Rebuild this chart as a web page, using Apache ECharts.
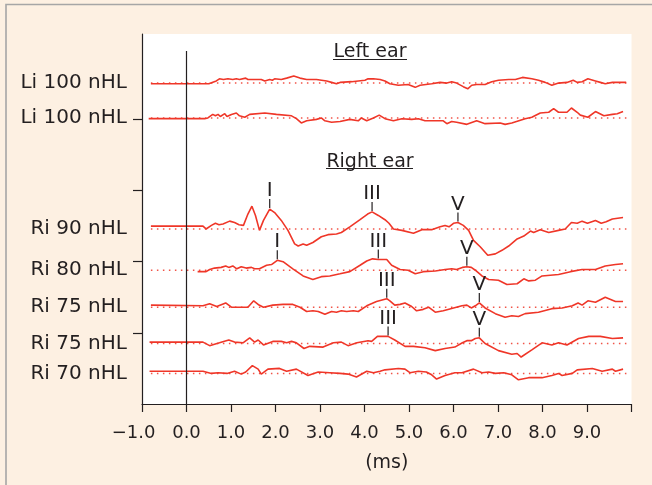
<!DOCTYPE html>
<html>
<head>
<meta charset="utf-8">
<script src="https://cdn.jsdelivr.net/npm/echarts@6/dist/echarts.min.js"></script>
<style>
html,body{margin:0;padding:0;background:#FDF0E2;}
#chart{width:652px;height:485px;}
</style>
</head>
<body>
<div id="chart"></div>
<script>
// ---- data ----
const traceNames = ['Li 100 nHL','Li 100 nHL','Ri 90 nHL','Ri 80 nHL','Ri 75 nHL','Ri 75 nHL','Ri 70 nHL'];
const baselines = [45.1, 40.2, 24.6, 18.8, 13.6, 8.5, 4.3];
const baselineSpan = [-0.8, 9.9];
const xTickLabels = ['\u22121.0','0.0','1.0','2.0','3.0','4.0','5.0','6.0','7.0','8.0','9.0'];
const xTickValues = [-1,0,1,2,3,4,5,6,7,8,9];
const yTickValues = [10,20,30,40];
const zeroLineTop = 49.6;

const liA = [[-0.8,-0.1],[0.41,-0.1],[0.44,0.0],[0.5,-0.1],[0.53,0.1],[0.67,0.3],[0.74,0.6],[0.83,0.5],[0.93,0.6],[1.04,0.5],[1.12,0.6],[1.19,0.5],[1.33,0.7],[1.38,0.5],[1.53,0.5],[1.68,0.5],[1.76,0.3],[1.87,0.5],[1.93,0.4],[1.98,0.6],[2.13,0.5],[2.25,0.7],[2.41,1.0],[2.55,0.7],[2.70,0.5],[2.92,0.5],[3.15,0.3],[3.26,0.1],[3.37,-0.1],[3.45,0.1],[3.71,0.2],[4.01,0.4],[4.08,0.6],[4.20,0.6],[4.35,0.5],[4.46,0.3],[4.57,-0.1],[4.76,-0.3],[4.98,-0.2],[5.14,-0.6],[5.25,-0.3],[5.51,-0.1],[5.70,0.1],[5.85,0.0],[5.96,0.2],[6.07,0.0],[6.22,-0.5],[6.32,-0.8],[6.41,-0.3],[6.52,-0.2],[6.71,-0.2],[6.86,0.2],[7.01,0.4],[7.24,0.5],[7.39,0.5],[7.55,0.8],[7.76,0.6],[7.91,0.4],[8.06,0.1],[8.21,-0.3],[8.36,0.0],[8.55,0.1],[8.69,0.4],[8.78,0.1],[8.89,0.2],[9.02,0.6],[9.19,0.3],[9.30,0.1],[9.41,-0.1],[9.57,0.1],[9.71,0.1],[9.88,0.1]];
const liB = [[-0.85,-0.1],[0.41,-0.1],[0.48,0],[0.59,0.5],[0.65,0.3],[0.71,0.5],[0.76,0.2],[0.86,0.6],[0.91,0.2],[1.01,0.5],[1.12,0.7],[1.19,0.3],[1.31,0.1],[1.42,0.5],[1.76,0.7],[2.02,0.5],[2.36,0.3],[2.47,-0.1],[2.58,-0.7],[2.70,-0.4],[2.92,-0.2],[3.03,0],[3.11,-0.4],[3.26,-0.6],[3.45,-0.5],[3.67,-0.2],[3.86,-0.4],[3.93,0],[4.05,-0.4],[4.20,0],[4.33,0.4],[4.46,-0.1],[4.65,-0.4],[4.84,-0.1],[5.06,-0.2],[5.21,-0.1],[5.36,-0.4],[5.77,-0.4],[5.85,-0.8],[5.96,-0.5],[6.07,-0.6],[6.30,-0.9],[6.52,-0.4],[6.71,-0.8],[7.05,-0.7],[7.16,-0.9],[7.31,-0.7],[7.61,-0.1],[7.76,0.1],[7.95,0.7],[8.14,0.8],[8.25,1.3],[8.36,0.8],[8.55,0.8],[8.65,1.4],[8.78,0.8],[8.85,0.4],[9.02,0.1],[9.19,0.9],[9.38,0.3],[9.57,0.5],[9.68,0.6],[9.81,0.9]];
const ri90 = [[-0.8,0.4],[0.37,0.4],[0.44,0.0],[0.56,0.5],[0.65,0.8],[0.73,0.6],[0.82,0.7],[0.97,1.1],[1.08,0.9],[1.18,0.6],[1.28,0.5],[1.38,2.1],[1.47,3.2],[1.55,1.9],[1.64,-0.2],[1.73,1.2],[1.87,2.8],[1.98,2.3],[2.13,1.2],[2.28,-0.2],[2.43,-2.1],[2.51,-2.4],[2.62,-2.1],[2.70,-2.3],[2.84,-1.9],[3.03,-1.1],[3.18,-0.8],[3.37,-0.7],[3.48,-0.5],[3.67,0.3],[3.90,1.3],[4.07,2.1],[4.17,2.4],[4.31,1.9],[4.46,1.3],[4.55,0.8],[4.65,0.0],[4.84,-0.2],[5.10,-0.6],[5.29,-0.1],[5.51,-0.1],[5.70,0.3],[5.81,0.5],[5.90,0.3],[6.00,0.8],[6.10,0.9],[6.22,0.5],[6.34,-0.2],[6.45,-1.6],[6.60,-2.5],[6.77,-3.7],[6.94,-3.5],[7.09,-3.0],[7.24,-2.4],[7.43,-1.4],[7.58,-1.0],[7.73,-0.3],[7.80,-0.5],[7.95,-0.1],[8.14,-0.5],[8.36,-0.2],[8.51,0.0],[8.65,0.9],[8.78,0.8],[8.89,1.1],[9.01,0.8],[9.19,1.2],[9.32,0.8],[9.43,1.0],[9.57,1.4],[9.81,1.6]];
const ri80 = [[0.25,-0.2],[0.44,-0.2],[0.52,0.1],[0.63,0.3],[0.78,0.4],[0.88,0.6],[0.95,0.4],[1.04,0.6],[1.13,0.2],[1.23,0.5],[1.34,0.3],[1.46,0.4],[1.53,0.2],[1.64,0.2],[1.80,0.7],[1.91,0.8],[2.04,1.4],[2.17,1.2],[2.39,0.2],[2.62,-0.8],[2.84,-1.3],[3.03,-0.9],[3.22,-0.8],[3.45,-0.5],[3.67,-0.2],[3.90,0.7],[4.05,1.3],[4.18,1.6],[4.31,1.5],[4.50,1.5],[4.61,0.7],[4.80,0.1],[4.98,0.0],[5.14,-0.5],[5.32,-0.2],[5.59,-0.1],[5.81,0.1],[5.96,0.2],[6.07,0.1],[6.20,0.4],[6.30,0.5],[6.40,0.4],[6.49,0.0],[6.64,-0.8],[6.79,-1.3],[7.01,-1.4],[7.20,-2.0],[7.43,-1.9],[7.58,-1.2],[7.69,-1.5],[7.84,-1.4],[7.99,-0.8],[8.36,-0.6],[8.63,-0.2],[8.89,0.1],[9.19,0.1],[9.41,0.6],[9.64,0.8],[9.81,0.9]];
const ri75a = [[-0.8,0.3],[0.37,0.2],[0.52,0.5],[0.68,0.1],[0.88,0.6],[1.01,0.0],[1.19,0.0],[1.38,0.0],[1.51,0.9],[1.63,0.3],[1.73,0.0],[1.94,0.3],[2.17,0.4],[2.39,0.4],[2.55,0.0],[2.70,-0.6],[2.84,-0.5],[2.96,-0.6],[3.11,-1.0],[3.26,-0.6],[3.37,-0.7],[3.48,-0.5],[3.60,-0.6],[3.75,-0.5],[3.86,-0.6],[4.05,0.2],[4.27,0.8],[4.50,1.2],[4.57,0.9],[4.68,0.3],[4.80,0.4],[4.91,0.6],[5.06,0.1],[5.17,-0.5],[5.32,-0.3],[5.44,0.0],[5.59,-0.7],[5.77,-0.5],[6.19,0.2],[6.30,0.3],[6.40,-0.1],[6.49,0.2],[6.58,0.6],[6.71,-0.1],[6.94,-0.9],[7.16,-1.4],[7.31,-1.2],[7.46,-1.3],[7.61,-0.9],[7.91,-0.7],[8.21,-0.2],[8.44,-0.1],[8.67,0.2],[8.80,0.6],[8.89,0.3],[9.02,0.9],[9.19,0.7],[9.41,1.4],[9.64,0.8],[9.81,0.8]];
const ri75b = [[-0.83,0.2],[0.37,0.2],[0.52,-0.3],[0.74,0.1],[0.95,0.5],[1.08,0.2],[1.27,0.1],[1.42,0.8],[1.53,0.2],[1.61,0.5],[1.73,-0.2],[1.94,0.3],[2.13,0.3],[2.25,0.1],[2.36,0.3],[2.47,0.1],[2.64,-0.7],[2.77,-0.4],[3.07,-0.5],[3.30,0.1],[3.48,0.2],[3.63,-0.3],[3.83,0.1],[4.08,0.4],[4.16,0.3],[4.29,1.0],[4.53,1.0],[4.68,0.5],[4.91,-0.4],[5.10,-0.4],[5.36,-0.6],[5.59,-1.0],[5.81,-0.7],[6.03,-0.5],[6.20,0.1],[6.30,0.4],[6.40,0.4],[6.49,0.7],[6.58,0.8],[6.71,0.0],[7.01,-1.0],[7.31,-1.5],[7.43,-1.4],[7.52,-1.9],[7.76,-0.9],[7.99,0.1],[8.21,-0.2],[8.36,0.1],[8.55,-0.2],[8.81,0.7],[9.04,1.0],[9.30,1.0],[9.57,0.7],[9.81,0.8]];
const ri70 = [[-0.83,0.3],[0.37,0.3],[0.56,0.0],[0.71,0.1],[0.91,0.0],[1.08,0.3],[1.23,-0.1],[1.33,0.2],[1.48,1.1],[1.61,0.6],[1.68,-0.1],[1.83,0.6],[2.09,0.7],[2.25,0.3],[2.47,0.6],[2.73,-0.3],[2.96,0.2],[3.22,0.1],[3.45,0.0],[3.63,-0.1],[3.82,-0.5],[4.05,0.3],[4.20,0.1],[4.35,0.3],[4.46,0.5],[4.76,0.7],[4.91,0.6],[5.02,0.1],[5.21,0.3],[5.39,0.2],[5.51,-0.2],[5.62,-0.8],[5.81,-0.3],[6.03,0.1],[6.19,0.1],[6.45,0.6],[6.64,0.1],[6.79,0.2],[6.94,0.0],[7.13,0.1],[7.31,-0.2],[7.46,-0.9],[7.69,-0.6],[7.99,-0.6],[8.21,-0.3],[8.36,0.0],[8.44,-0.3],[8.67,0.0],[8.78,0.5],[9.12,0.7],[9.34,0.3],[9.57,0.6],[9.64,0.3],[9.81,0.6]];
const traces = [liA, liB, ri90, ri80, ri75a, ri75b, ri70];

const peakTrace = [2,2,2,3,3,3,4,4,5,5];
const peakNames = ['I','III','V','I','III','V','III','V','III','V'];
const peakTimes = [1.87,4.17,6.10,2.04,4.31,6.30,4.50,6.58,4.53,6.58];

// ---- styling ----
const RED = '#EF3628';
const INK = '#231F20';
const FONT = '"DejaVu Sans", sans-serif';

function valueAt(tr, t){
  for (let i = 0; i < tr.length - 1; i++){
    const a = tr[i], b = tr[i+1];
    if (t >= a[0] && t <= b[0]) {
      const f = (t - a[0]) / (b[0] - a[0] || 1);
      return a[1] + f * (b[1] - a[1]);
    }
  }
  return tr[tr.length-1][1];
}

const series = [];
traces.forEach((tr, i) => {
  series.push({
    type: 'line', name: 'base' + i, silent: true, symbol: 'none', animation: false, z: 2,
    data: [[baselineSpan[0], baselines[i]], [baselineSpan[1], baselines[i]]],
    lineStyle: { color: RED, width: 1.5, type: [1.5, 4.5], opacity: 0.85 }
  });
  series.push({
    type: 'line', name: traceNames[i], silent: true, symbol: 'none', animation: false, z: 3,
    data: tr.map(p => [p[0], baselines[i] + p[1]]),
    lineStyle: { color: RED, width: 1.6 }
  });
});

// zero reference line
series.push({
  type: 'line', silent: true, symbol: 'none', animation: false, z: 4,
  data: [[0, 0], [0, zeroLineTop]],
  lineStyle: { color: INK, width: 1.2 }
});

// trace labels
series.push({
  type: 'custom', silent: true, animation: false, clip: false, z: 5,
  data: baselines.map((b, i) => [baselineSpan[0], b, i]),
  encode: { x: 0, y: 1 },
  renderItem: function (params, api) {
    const p = api.coord([api.value(0), api.value(1)]);
    return {
      type: 'text', x: p[0] - 24, y: p[1],
      style: { text: traceNames[api.value(2)], align: 'right', verticalAlign: 'middle',
               fontSize: 20, fontFamily: FONT, fill: INK }
    };
  }
});

// peak markers
series.push({
  type: 'custom', silent: true, animation: false, clip: false, z: 6,
  data: peakTimes.map((t, k) => [t, baselines[peakTrace[k]] + valueAt(traces[peakTrace[k]], t), k]),
  encode: { x: 0, y: 1 },
  renderItem: function (params, api) {
    const p = api.coord([api.value(0), api.value(1)]);
    return {
      type: 'group',
      children: [
        { type: 'line', shape: { x1: p[0], y1: p[1] - 1, x2: p[0], y2: p[1] - 10 },
          style: { stroke: INK, lineWidth: 1.2 } },
        { type: 'text', x: p[0], y: p[1] - 8,
          style: { text: peakNames[api.value(2)], align: 'center', verticalAlign: 'bottom',
                   fontSize: 20, fontFamily: FONT, fill: INK } }
      ]
    };
  }
});

const chart = echarts.init(document.getElementById('chart'), null, { renderer: 'canvas' });
chart.setOption({
  animation: false,
  backgroundColor: '#FDF0E2',
  grid: { left: 142, right: 20.5, top: 34, bottom: 81, show: true, backgroundColor: '#FFFFFF', borderWidth: 0 },
  xAxis: {
    type: 'value', min: -1, max: 10, interval: 1,
    name: '(ms)', nameLocation: 'middle', nameGap: 50,
    nameTextStyle: { fontSize: 19, fontFamily: FONT, color: INK },
    axisLine: { show: true, onZero: false, lineStyle: { color: INK, width: 1.2 } },
    axisTick: { show: true, length: 8, lineStyle: { color: INK, width: 1.2 } },
    axisLabel: {
      customValues: xTickValues, margin: 20, fontSize: 18, fontFamily: FONT, color: INK,
      formatter: function (v) {
        const idx = xTickValues.indexOf(v);
        const s = idx >= 0 ? xTickLabels[idx] : '';
        return v < 0 ? '{neg|' + s + '}' : s;
      },
      rich: { neg: { fontSize: 18, fontFamily: FONT, color: INK, padding: [0, 17, 0, 0] } }
    },
    splitLine: { show: false }
  },
  yAxis: {
    type: 'value', min: 0, max: 52,
    axisLine: { show: true, onZero: false, lineStyle: { color: INK, width: 1.2 } },
    axisTick: { show: true, length: 9, customValues: yTickValues, lineStyle: { color: INK, width: 1.2 } },
    axisLabel: { show: false },
    splitLine: { show: false }
  },
  graphic: [
    { type: 'rect', shape: { x: 6, y: 4.5, width: 700, height: 600 },
      style: { fill: 'none', stroke: '#A6A6A6', lineWidth: 1.6 }, z: 100 },
    { type: 'text', x: 370, y: 52, style: { text: 'Left ear', align: 'center', verticalAlign: 'middle', fontSize: 19, fontFamily: FONT, fill: INK } },
    { type: 'line', shape: { x1: 333, y1: 59.5, x2: 407, y2: 59.5 }, style: { stroke: INK, lineWidth: 1.2 } },
    { type: 'text', x: 370, y: 162, style: { text: 'Right ear', align: 'center', verticalAlign: 'middle', fontSize: 19, fontFamily: FONT, fill: INK } },
    { type: 'line', shape: { x1: 326, y1: 168.5, x2: 413, y2: 168.5 }, style: { stroke: INK, lineWidth: 1.2 } }
  ],
  series: series
});
</script>
</body>
</html>
